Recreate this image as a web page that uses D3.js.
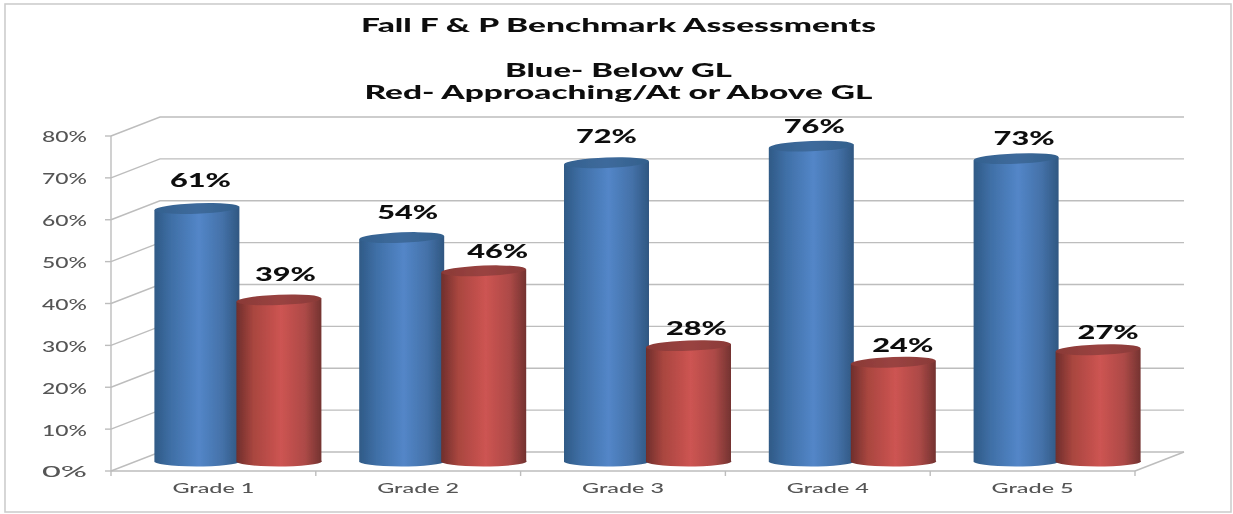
<!DOCTYPE html>
<html><head><meta charset="utf-8">
<script src="https://cdn.jsdelivr.net/npm/d3@7"></script>
<style>html,body{margin:0;padding:0;background:#fff}svg{display:block}</style>
</head><body><div id="c"></div>
<script>
const categories=["Grade 1","Grade 2","Grade 3","Grade 4","Grade 5"];
const seriesNames=["Below GL","Approaching/At or Above GL"];
const belowGL=[61,54,72,76,73];
const aboveGL=[39,46,28,24,27];
const yTicks=[0,10,20,30,40,50,60,70,80];
const titleLines=["Fall F & P Benchmark Assessments","","Blue- Below GL","Red- Approaching/At or Above GL"];
const seriesValues=[belowGL,aboveGL];
// hand placement of the value labels, relative to each cylinder top (layout only)
const labelShiftX=[[3.5,6,0,3,8],[6.5,14,8,9.5,10]];
const labelLift=[[28,25,26,20,20],[25,19,17,17,17]];
const W=1233,H=514;
const FONT="Lato,'Open Sans',sans-serif";
const svg=d3.select("#c").append("svg").attr("width",W).attr("height",H);
const defs=svg.append("defs");
defs.append("filter").attr("id","soft").attr("x","-5%").attr("y","-5%").attr("width","110%").attr("height","110%")
  .append("feGaussianBlur").attr("stdDeviation",0.6);
function grad(id,stops){const g=defs.append("linearGradient").attr("id",id);
  stops.forEach(([o,c])=>g.append("stop").attr("offset",o).attr("stop-color",c));}
grad("g0",[[0,"#2f5a86"],[.2,"#3f6fa6"],[.52,"#5386c8"],[.8,"#4471a8"],[1,"#2f5680"]]);
grad("g1",[[0,"#6f2e2c"],[.2,"#a9463f"],[.52,"#cd5452"],[.8,"#ad4a47"],[1,"#723230"]]);
grad("t0",[[0,"#34618f"],[.5,"#3e6a9c"],[1,"#33608c"]]);
grad("t1",[[0,"#8a3936"],[.5,"#9a4341"],[1,"#8a3a38"]]);
const root=svg.append("g").attr("filter","url(#soft)");
root.append("rect").attr("x",5).attr("y",4).attr("width",1226).attr("height",508)
  .attr("fill","#fff").attr("stroke","#cdcdcd").attr("stroke-width",1.6);

// 3D frame
const y=d3.scaleLinear().domain([0,80]).range([471,136]);
const dx=49,dy=-19;
const xFront=d3.scaleBand().domain(categories).range([111,1135]);
const xMid=d3.scaleBand().domain(categories).range([111+dx/2,1135+dx/2]);
const xInner=d3.scaleBand().domain([0,1]).range([0,164]);
const grid="#bdbdbd";
const frame=root.append("g").attr("fill","none").attr("stroke",grid).attr("stroke-width",1.4);
yTicks.forEach(t=>{
  frame.append("path").attr("d",`M${111},${y(t)}L${111+dx},${y(t)+dy}L${1135+dx},${y(t)+dy}`);
  frame.append("line").attr("x1",105).attr("x2",111).attr("y1",y(t)).attr("y2",y(t));
});
frame.append("line").attr("x1",111).attr("x2",111).attr("y1",y(0)+5).attr("y2",y(80));
frame.append("line").attr("x1",111).attr("x2",1135).attr("y1",y(0)).attr("y2",y(0));
frame.append("line").attr("x1",1135).attr("y1",y(0)).attr("x2",1135+dx).attr("y2",y(0)+dy);
categories.forEach((c,i)=>{const x=xFront(c)+xFront.bandwidth();
  frame.append("line").attr("x1",x).attr("x2",x).attr("y1",y(0)).attr("y2",y(0)+5);});

// y labels
root.append("g").selectAll("text").data(yTicks).join("text")
  .attr("x",87).attr("y",d=>y(d)+1).attr("dy","0.36em").attr("text-anchor","end")
  .attr("font-family",FONT).attr("font-size",15).attr("font-weight",500).attr("fill","#555")
  .attr("textLength",45).attr("lengthAdjust","spacingAndGlyphs").text(d=>d+"%");
// x labels
root.append("g").selectAll("text").data(categories).join("text")
  .attr("x",d=>xFront(d)+xFront.bandwidth()/2).attr("y",493).attr("text-anchor","middle")
  .attr("font-family",FONT).attr("font-size",14).attr("font-weight",500).attr("fill","#555")
  .attr("textLength",82).attr("lengthAdjust","spacingAndGlyphs").text(d=>d);

// cylinders
const yb=d3.scaleLinear().domain([0,80]).range([462,129.5]);
const rx=42.5,ry=5.2,tilt=1.6;
const bars=root.append("g");
categories.forEach((c,i)=>{
  seriesValues.forEach((vals,s)=>{
    const v=vals[i];
    const cx=xMid(c)+xMid.bandwidth()/2-82+xInner(s)+xInner.bandwidth()/2;
    const g=bars.append("g");
    const t=yb(v),b=yb(0);
    g.append("path").attr("fill",`url(#g${s})`)
     .attr("d",`M${cx-rx},${t+tilt}L${cx-rx},${b}A${rx},${ry} 0 0 0 ${cx+rx},${b-tilt}L${cx+rx},${t-tilt}Z`);
    g.append("ellipse").attr("cx",cx).attr("cy",t).attr("rx",rx).attr("ry",ry)
     .attr("transform",`rotate(-2.2 ${cx} ${t})`).attr("fill",`url(#t${s})`);
    root.append("text").attr("x",cx+labelShiftX[s][i]).attr("y",t-labelLift[s][i]+6.5).attr("text-anchor","middle")
      .attr("font-family",FONT).attr("font-weight",900).attr("font-size",18).attr("fill","#111")
      .attr("textLength",61).attr("lengthAdjust","spacingAndGlyphs").text(v+"%");
  });
});
// title
const tl=[515,0,227,508];
const ty=[32,0,77,99];
titleLines.forEach((l,i)=>{ if(!l) return;
  root.append("text").attr("x",618.5).attr("y",ty[i]).attr("text-anchor","middle")
   .attr("font-family",FONT).attr("font-weight",900).attr("font-size",18).attr("fill","#111")
   .attr("textLength",tl[i]).attr("lengthAdjust","spacingAndGlyphs").text(l);
});
</script></body></html>
